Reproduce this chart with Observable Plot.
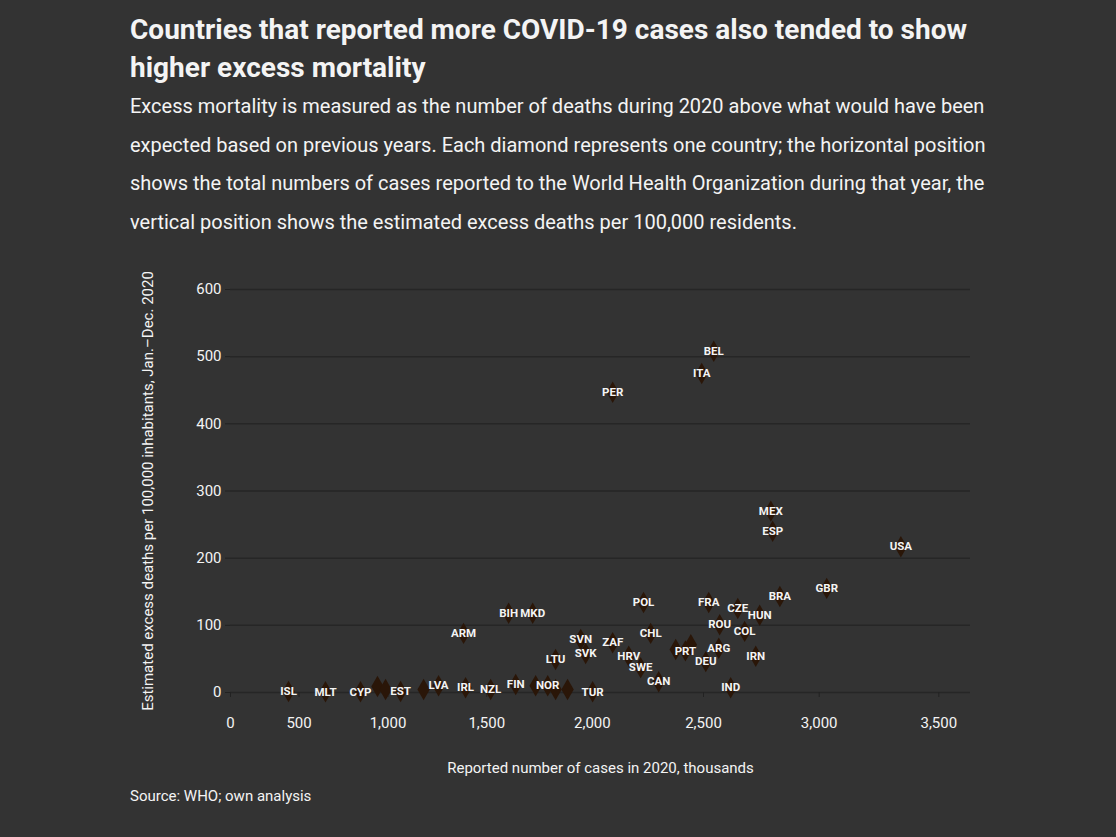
<!DOCTYPE html>
<html>
<head>
<meta charset="utf-8">
<script src="https://cdn.jsdelivr.net/npm/d3@7"></script>
<script src="https://cdn.jsdelivr.net/npm/@observablehq/plot@0.6"></script>
<style>
  body { margin: 0; background: #333333; font-family: Roboto, "Noto Sans", sans-serif; color: #f4f4f4; }
  #wrap { position: absolute; left: 130px; top: 0; width: 880px; }
  h1 { margin: 0; padding-top: 11px; font-size: 28px; line-height: 38px; font-weight: 700; }
  .sub { margin: 0; font-size: 20px; line-height: 38.5px; }
  .line { display: block; white-space: nowrap; }
  #chart { margin-top: 13px; height: 528px; }
  .cap { margin: 0; font-size: 15px; line-height: 28px; }
</style>
</head>
<body>
<div id="wrap">
  <h1><span class="line">Countries that reported more COVID-19 cases also tended to show</span><span class="line">higher excess mortality</span></h1>
  <p class="sub">
    <span class="line">Excess mortality is measured as the number of deaths during 2020 above what would have been</span>
    <span class="line">expected based on previous years. Each diamond represents one country; the horizontal position</span>
    <span class="line">shows the total numbers of cases reported to the World Health Organization during that year, the</span>
    <span class="line">vertical position shows the estimated excess deaths per 100,000 residents.</span>
  </p>
  <div id="chart"></div>
  <p class="cap">Source: WHO; own analysis</p>
</div>
<script>
// Country codes ("" = unlabelled point)
const codes = [
  "BEL","ITA","PER","MEX","ESP","USA","GBR","BRA","POL","FRA","CZE","BIH","MKD","HUN","ARM","ROU","COL","CHL",
  "SVN","SVK","ZAF","HRV","ARG","IRN","PRT","SWE","DEU","LTU","CAN","IND","TUR",
  "ISL","MLT","CYP","EST","LVA","IRL","NZL","FIN","NOR",
  "","","","","","","",""
];
// Reported cases in 2020 (thousands)
const cases = [
  2545, 2492, 2093, 2793, 2801, 3343, 3032, 2832, 2233, 2523, 2650, 1606, 1721, 2745, 1386, 2571, 2680, 2265,
  1946, 1969, 2093, 2166, 2567, 2728, 2420, 2220, 2510, 1829, 2301, 2619, 2001,
  435, 656, 852, 1066, 1261, 1396, 1519, 1640, 1792,
  944, 987, 1185, 1735, 1829, 1885, 2377, 2444
];
// Estimated excess deaths per 100,000 people
const deaths = [
  508, 475, 447, 270, 240, 217, 155, 143, 134, 134, 125, 118, 118, 115, 88, 101, 91, 88,
  79, 58, 74, 54, 66, 54, 62, 37, 46, 49, 16, 7, 1,
  1.5, 1, 1, 1.5, 10, 7, 4.5, 12, 10,
  9, 4.5, 4.5, 10, 4.5, 4.5, 64, 71
];
const xTicks = [0, 500, 1000, 1500, 2000, 2500, 3000, 3500];
const yTicks = [0, 100, 200, 300, 400, 500, 600];

const data = codes.map((c, i) => ({code: c, cases: cases[i], deaths: deaths[i]}));

const chart = Plot.plot({
  width: 880,
  height: 528,
  marginLeft: 100,
  marginRight: 40,
  marginTop: 35,
  marginBottom: 90,
  style: {background: "transparent", color: "#f4f4f4", fontSize: "14px", fontFamily: "Roboto, 'Noto Sans', sans-serif"},
  x: {type: "pow", exponent: 1.2, domain: [0, 3630]},
  y: {domain: [0, 600]},
  marks: [
    Plot.gridY(yTicks, {stroke: "#262626", strokeOpacity: 1, strokeWidth: 1.5}),
    Plot.axisY(yTicks, {stroke: "#222222", tickSize: 5, fontSize: 15, label: "Estimated excess deaths per 100,000 inhabitants, Jan.–Dec. 2020", labelAnchor: "center", labelOffset: 88, labelArrow: "none"}),
    Plot.axisX(xTicks, {stroke: "#222222", tickSize: 5, tickPadding: 20, fontSize: 15, tickFormat: d3.format(","), label: "Reported number of cases in 2020, thousands", labelAnchor: "center", labelOffset: 80, labelArrow: "none"}),
    Plot.dot(data, {x: "cases", y: "deaths", symbol: "diamond", r: 6.5, fill: "#2a1608", stroke: "none"}),
    Plot.text(data.filter(d => d.code !== ""), {x: "cases", y: "deaths", text: "code", fill: "#f4f4f4", fontSize: 11.5, fontWeight: "bold"})
  ]
});
document.getElementById("chart").appendChild(chart);
</script>
</body>
</html>
